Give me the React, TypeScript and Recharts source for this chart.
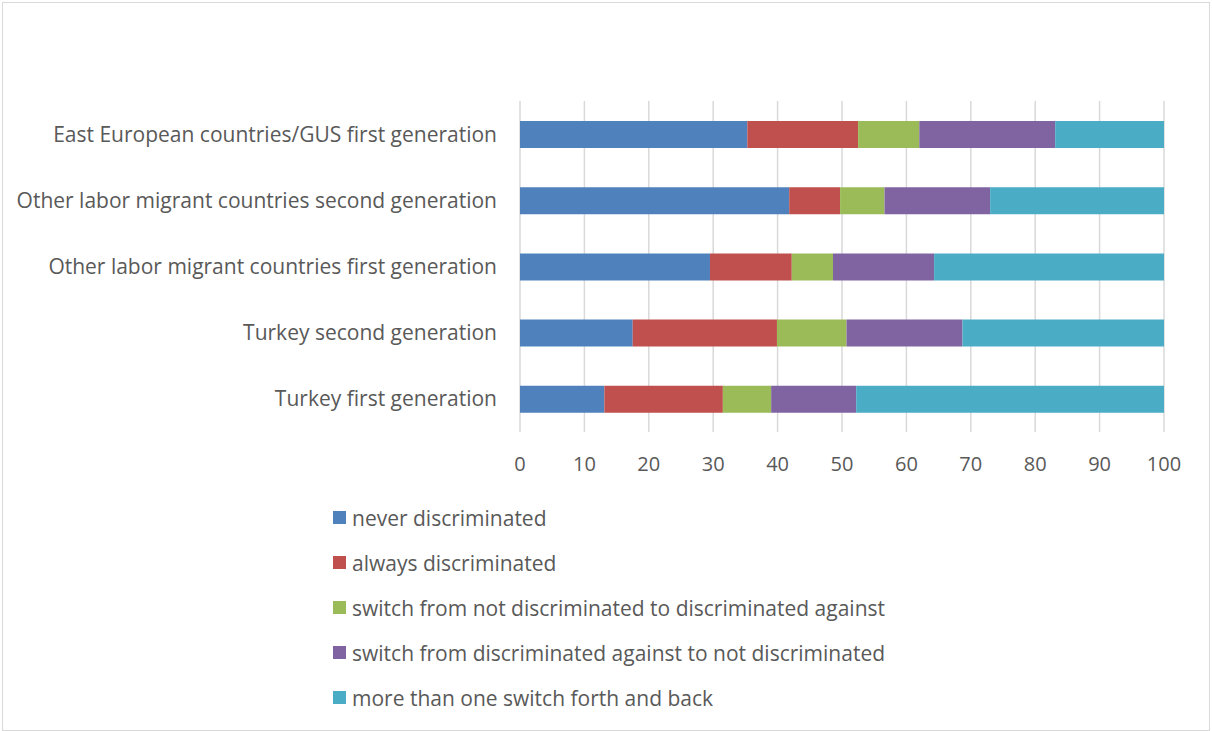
import React from 'react';
import { BarChart, Bar, XAxis, YAxis, CartesianGrid } from 'recharts';

// groups, top to bottom
const groups = [
  'East European countries/GUS first generation',
  'Other labor migrant countries second generation',
  'Other labor migrant countries first generation',
  'Turkey second generation',
  'Turkey first generation',
];

const neverDiscriminated = [35.3, 41.8, 29.5, 17.5, 13.1];
const alwaysDiscriminated = [17.2, 7.9, 12.7, 22.4, 18.4];
const switchToDiscriminated = [9.5, 6.9, 6.4, 10.8, 7.5];
const switchToNotDiscriminated = [21.1, 16.4, 15.7, 18.0, 13.2];
const moreThanOneSwitch = [16.9, 27.0, 35.7, 31.3, 47.8];

const xTicks = [0, 10, 20, 30, 40, 50, 60, 70, 80, 90, 100];

const series = [
  { key: 'never', name: 'never discriminated', color: '#4F81BD', values: neverDiscriminated },
  { key: 'always', name: 'always discriminated', color: '#C0504D', values: alwaysDiscriminated },
  { key: 'toDisc', name: 'switch from not discriminated to discriminated against', color: '#9BBB59', values: switchToDiscriminated },
  { key: 'toNot', name: 'switch from discriminated against to not discriminated', color: '#8064A2', values: switchToNotDiscriminated },
  { key: 'multi', name: 'more than one switch forth and back', color: '#4BACC6', values: moreThanOneSwitch },
];

const data = groups.map((g, i) => {
  const row: Record<string, string | number> = { group: g };
  series.forEach((s) => {
    row[s.key] = s.values[i];
  });
  return row;
});

const FONT = '"Open Sans", sans-serif';
const TEXT = '#595959';

export default function App() {
  return (
    <div
      style={{
        position: 'absolute',
        left: 2,
        top: 2,
        width: 1206,
        height: 727,
        border: '1px solid #d9d9d9',
        background: '#fff',
      }}
    >
      <BarChart
        width={1206}
        height={500}
        data={data}
        layout="vertical"
        margin={{ top: 98, right: 45, bottom: 28, left: 0 }}
        barSize={27}
      >
        <CartesianGrid horizontal={false} stroke="#d9d9d9" strokeWidth={1.5} />
        <XAxis
          type="number"
          domain={[0, 100]}
          ticks={xTicks}
          axisLine={false}
          tickLine={false}
          tickSize={0}
          tickMargin={25}
          height={43}
          tick={{ fill: TEXT, fontSize: 20, fontFamily: FONT }}
        />
        <YAxis
          type="category"
          dataKey="group"
          width={517}
          interval={0}
          axisLine={false}
          tickLine={false}
          tickSize={0}
          tickMargin={23}
          tick={{ fill: TEXT, fontSize: 21, fontFamily: FONT }}
        />
        {series.map((s) => (
          <Bar
            key={s.key}
            dataKey={s.key}
            name={s.name}
            stackId="a"
            fill={s.color}
            isAnimationActive={false}
          />
        ))}
      </BarChart>
      <div style={{ position: 'absolute', left: 330, top: 492, fontFamily: FONT }}>
        {series.map((s) => (
          <div key={s.key} style={{ display: 'flex', alignItems: 'center', height: 45 }}>
            <span style={{ width: 13, height: 13, background: s.color, marginRight: 6, display: 'inline-block' }} />
            <span style={{ fontSize: 21, color: TEXT }}>{s.name}</span>
          </div>
        ))}
      </div>
    </div>
  );
}
